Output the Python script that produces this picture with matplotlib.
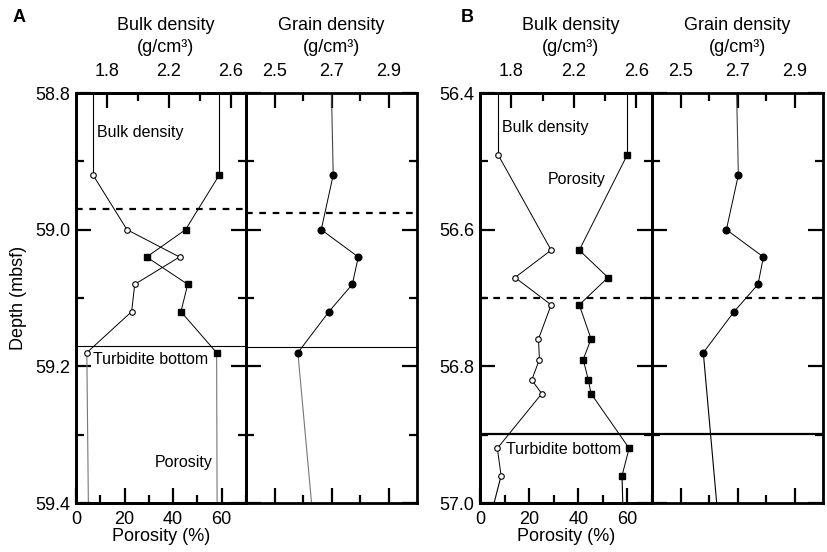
import matplotlib.pyplot as plt
from matplotlib.ticker import MultipleLocator, FixedLocator, NullFormatter

plt.rcParams['font.family'] = ['Liberation Sans', 'DejaVu Sans']

# ---- core A (58.8-59.4 mbsf) ----
depth_a = [58.92, 59.00, 59.04, 59.08, 59.12, 59.18]
bulk_a = [1.71, 1.93, 2.27, 1.98, 1.96, 1.67]
poros_a = [59.0, 45.1, 29.1, 46.0, 43.2, 57.9]
grain_a = [2.706, 2.664, 2.794, 2.773, 2.691, 2.582]
# values the trend runs to at the base of the plotted interval
base_a = {'bulk': 1.68, 'poros': 58.1, 'grain': 2.63}
top_grain_a = 2.70
dash_a = (58.970, 58.975)   # left / right panel
turb_a = (59.170, 59.171)

# ---- core B (56.4-57.0 mbsf) ----
depth_b = [56.49, 56.63, 56.67, 56.71, 56.76, 56.79, 56.82, 56.84, 56.92, 56.96]
bulk_b = [1.715, 2.055, 1.824, 2.055, 1.974, 1.98, 1.931, 1.995, 1.711, 1.735]
poros_b = [60.0, 40.4, 52.1, 40.4, 45.2, 42.0, 44.1, 45.2, 60.7, 57.8]
depth_gb = [56.52, 56.60, 56.64, 56.68, 56.72, 56.78]
grain_b = [2.703, 2.661, 2.791, 2.772, 2.688, 2.58]
base_b = {'bulk': 1.69, 'poros': 58.1, 'grain': 2.627}
top_grain_b = 2.697
dash_b = (56.70, 56.70)
turb_b = (56.899, 56.899)

W, H = 827, 552
fig = plt.figure(figsize=(W / 100, H / 100), dpi=100)


def px(x0, x1, y0=93, y1=503):
    return [x0 / W, 1 - y1 / H, (x1 - x0) / W, (y1 - y0) / H]


def style(ax):
    for s in ax.spines.values():
        s.set_linewidth(2)
    ax.tick_params(which='major', direction='in', length=11, width=1.6, labelsize=13)
    ax.tick_params(which='minor', direction='in', length=6, width=1.6)


def panel(x0, x_mid, x1, ylim, depth, bulk, poros, depth_g, grain, base,
          top_grain, dash, turb, turb_lw, base_color, labels, ylabel=False):
    ax = fig.add_axes(px(x0, x_mid))
    axg = fig.add_axes(px(x_mid, x1))
    top = ax.twiny()

    # porosity (bottom axis) and bulk density (top axis)
    ax.set_xlim(0, 70)
    ax.set_ylim(ylim[1], ylim[0])
    ax.xaxis.set_major_locator(MultipleLocator(20))
    ax.xaxis.set_minor_locator(MultipleLocator(10))
    ax.yaxis.set_major_locator(MultipleLocator(0.2))
    ax.yaxis.set_minor_locator(MultipleLocator(0.1))
    ax.yaxis.set_ticks_position('both')
    ax.yaxis.set_major_formatter(plt.FormatStrFormatter('%.1f'))
    style(ax)
    ax.tick_params(axis='x', pad=6)
    ax.tick_params(axis='y', pad=4)
    ax.set_xlabel('Porosity (%)', fontsize=13, labelpad=0)
    if ylabel:
        ax.set_ylabel('Depth (mbsf)', fontsize=13, labelpad=6)

    top.set_xlim(1.6, 2.7)
    top.xaxis.set_major_locator(FixedLocator([1.8, 2.2, 2.6]))
    top.xaxis.set_minor_locator(FixedLocator([2.0, 2.4]))
    style(top)
    top.tick_params(axis='x', pad=9)

    # grain density
    axg.set_xlim(2.4, 3.0)
    axg.set_ylim(ylim[1], ylim[0])
    axg.xaxis.set_major_locator(FixedLocator([2.5, 2.7, 2.9]))
    axg.xaxis.set_minor_locator(FixedLocator([2.6, 2.8]))
    axg.yaxis.set_major_locator(MultipleLocator(0.2))
    axg.yaxis.set_minor_locator(MultipleLocator(0.1))
    axg.xaxis.set_ticks_position('both')
    axg.yaxis.set_ticks_position('both')
    axg.tick_params(labelbottom=False, labeltop=True, labelleft=False)
    axg.yaxis.set_major_formatter(NullFormatter())
    style(axg)
    axg.tick_params(axis='x', pad=9)

    ms_open = dict(marker='o', ms=4, mfc='white', mec='black', mew=0.8)
    ms_sq = dict(marker='s', ms=4.6, mfc='black', mec='black')
    ms_dot = dict(marker='o', ms=4.8, mfc='black', mec='black')

    # lead-in from top of interval, data, and trend below the deepest sample
    top.plot([bulk[0], bulk[0]], [ylim[0], depth[0]], color='black', lw=0.8)
    top.plot([bulk[-1], base['bulk']], [depth[-1], ylim[1]], color=base_color, lw=0.8)
    top.plot(bulk, depth, color='black', lw=0.7, **ms_open)

    ax.plot([poros[0], poros[0]], [ylim[0], depth[0]], color='black', lw=0.8)
    ax.plot([poros[-1], base['poros']], [depth[-1], ylim[1]], color=base_color, lw=0.8)
    ax.plot(poros, depth, color='black', lw=0.7, **ms_sq)

    axg.plot([top_grain, grain[0]], [ylim[0], depth_g[0]], color='#444444', lw=0.8)
    axg.plot([grain[-1], base['grain']], [depth_g[-1], ylim[1]], color=base_color, lw=0.8)
    axg.plot(grain, depth_g, color='black', lw=0.7, **ms_dot)

    # facies boundaries
    for a, yd, yt in ((ax, dash[0], turb[0]), (axg, dash[1], turb[1])):
        a.axhline(yd, color='black', lw=1.6, ls=(0, (3, 3)))
        a.axhline(yt, color='black', lw=turb_lw)

    for txt, (xv, yv, ha) in labels.items():
        ax.text(xv, yv, txt, fontsize=11.5, ha=ha, va='center')

    fig.text((x0 + x_mid) / 2 / W + 0.006, 1 - 26 / H, 'Bulk density', fontsize=13,
             ha='center', va='center')
    fig.text((x0 + x_mid) / 2 / W + 0.006, 1 - 48 / H, '(g/cm³)', fontsize=13,
             ha='center', va='center')
    fig.text((x_mid + x1) / 2 / W, 1 - 26 / H, 'Grain density', fontsize=13,
             ha='center', va='center')
    fig.text((x_mid + x1) / 2 / W, 1 - 48 / H, '(g/cm³)', fontsize=13,
             ha='center', va='center')


panel(76, 246, 417, (58.8, 59.4), depth_a, bulk_a, poros_a, depth_a, grain_a,
      base_a, top_grain_a, dash_a, turb_a, 0.8, '#777777',
      {'Bulk density': (8.6, 58.858, 'left'),
       'Turbidite bottom': (6.9, 59.19, 'left'),
       'Porosity': (56.2, 59.341, 'right')},
      ylabel=True)

panel(480, 652, 823, (56.4, 57.0), depth_b, bulk_b, poros_b, depth_gb, grain_b,
      base_b, top_grain_b, dash_b, turb_b, 1.6, 'black',
      {'Bulk density': (9.1, 56.451, 'left'),
       'Porosity': (27.6, 56.527, 'left'),
       'Turbidite bottom': (10.6, 56.922, 'left')})

fig.text(19 / W, 1 - 18 / H, 'A', fontsize=13, fontweight='bold', ha='center', va='center')
fig.text(467 / W, 1 - 17 / H, 'B', fontsize=13, fontweight='bold', ha='center', va='center')

fig.savefig('out.png', dpi=100)
